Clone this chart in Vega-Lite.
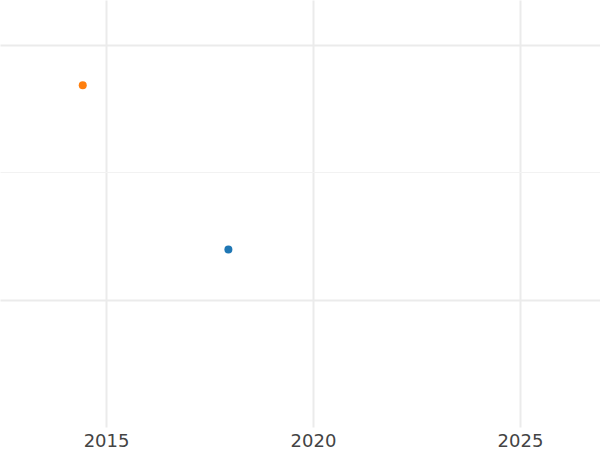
{
  "$schema": "https://vega.github.io/schema/vega-lite/v6.json",
  "width": 600,
  "height": 427,
  "padding": {"top": 0, "left": 0, "right": 0, "bottom": 23},
  "autosize": {"type": "none"},
  "background": "white",
  "data": {
    "values": [
      {"year": 2017.956, "value": 1.394, "series": "A"},
      {"year": 2014.437, "value": 2.685, "series": "B"}
    ]
  },
  "mark": {"type": "circle", "size": 64, "opacity": 1},
  "encoding": {
    "x": {
      "field": "year",
      "type": "quantitative",
      "scale": {"domain": [2012.438, 2026.934], "nice": false, "zero": false},
      "axis": {
        "values": [2015, 2020, 2025],
        "format": "d",
        "title": null,
        "domain": false,
        "ticks": false,
        "labelFontSize": 18,
        "labelFont": "DejaVu Sans",
        "labelColor": "#444444",
        "labelPadding": 5,
        "gridColor": "#ebebeb",
        "gridWidth": 2
      }
    },
    "y": {
      "field": "value",
      "type": "quantitative",
      "scale": {"domain": [0, 3.354], "nice": false, "zero": false},
      "axis": {
        "values": [1, 2, 3],
        "title": null,
        "labels": false,
        "domain": false,
        "ticks": false,
        "gridColor": {"condition": {"test": "datum.value == 2", "value": "#f2f2f2"}, "value": "#ebebeb"},
        "gridWidth": {"condition": {"test": "datum.value == 2", "value": 1}, "value": 2}
      }
    },
    "color": {
      "field": "series",
      "type": "nominal",
      "scale": {"domain": ["A", "B"], "range": ["#1f77b4", "#ff7f0e"]},
      "legend": null
    }
  },
  "config": {"view": {"stroke": null}}
}
